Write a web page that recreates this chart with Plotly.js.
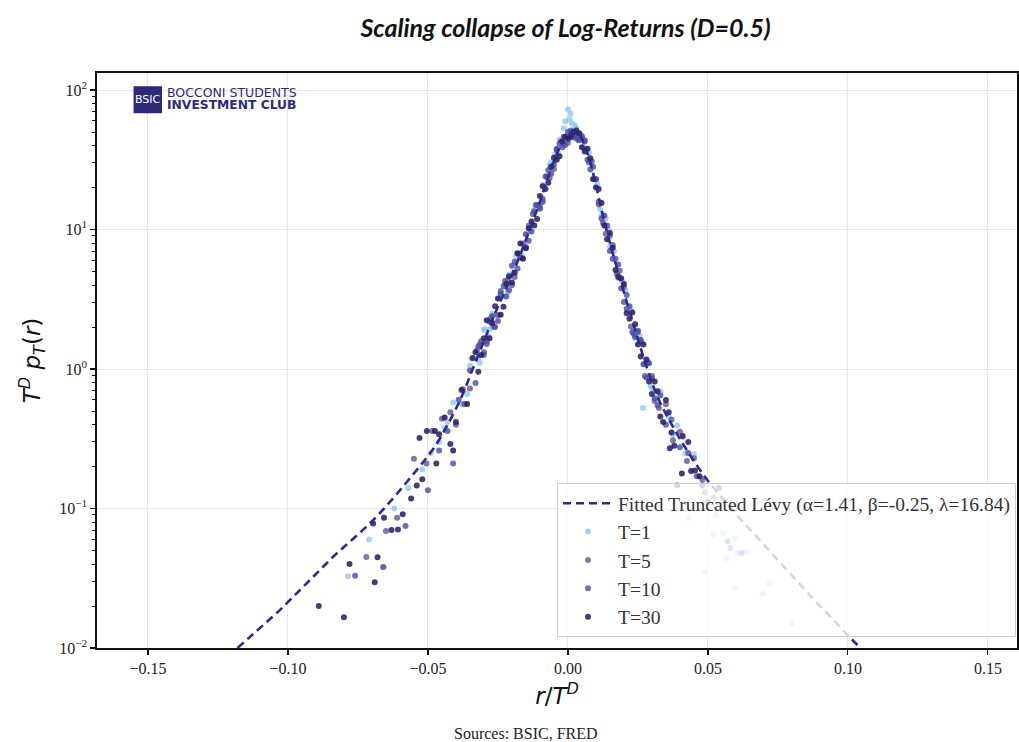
<!DOCTYPE html>
<html>
<head>
<meta charset="utf-8">
<script src="https://cdn.plot.ly/plotly-3.0.1.min.js"></script>
<style>html,body{margin:0;padding:0;background:#fff;}#chart{width:1019px;height:742px;}</style>
</head>
<body>
<div id="chart"></div>
<script>
// Fitted truncated Lévy curve
const fitX = [-0.118,-0.113,-0.108,-0.103,-0.098,-0.093,-0.088,-0.083,-0.078,-0.073,-0.068,-0.063,-0.058,-0.053,-0.048,-0.043,-0.038,-0.034,-0.030,-0.026,-0.022,-0.018,-0.014,-0.010,-0.007,-0.004,-0.002,0.000,0.002,0.004,0.006,0.008,0.010,0.012,0.014,0.017,0.020,0.024,0.028,0.032,0.036,0.040,0.045,0.050,0.055,0.060,0.065,0.070,0.075,0.080,0.085,0.090,0.095,0.100,0.105];
const fitY = [0.0100,0.0123,0.0151,0.0186,0.0234,0.0295,0.0372,0.0468,0.0575,0.0708,0.0891,0.115,0.151,0.200,0.269,0.398,0.631,1.00,1.58,2.51,3.80,5.89,9.55,15.8,24.0,34.7,42.7,47.9,50.1,47.9,39.8,30.2,20.9,13.8,9.55,5.75,3.55,1.91,1.05,0.631,0.437,0.316,0.219,0.158,0.120,0.0912,0.0708,0.0550,0.0427,0.0331,0.0257,0.0200,0.0158,0.0123,0.0098];

// T=1
const t1X = [-0.0786,-0.0657,-0.071,-0.062,-0.057,-0.052,-0.049,-0.046,-0.044,-0.041,-0.038,-0.035,-0.032,-0.030,-0.0285,-0.027,-0.0255,-0.024,-0.0225,-0.021,-0.0195,-0.018,-0.0165,-0.015,-0.0135,-0.012,-0.0105,-0.009,-0.0075,-0.006,-0.0045,-0.003,-0.0015,0.000,0.0005,0.0015,0.003,0.0045,0.006,0.0075,0.009,0.0105,0.012,0.0135,0.015,0.0165,0.018,0.0195,0.021,0.0225,0.024,0.0255,0.027,0.0285,0.030,0.033,0.036,0.039,0.042,0.045,0.043,0.0518,0.0554,0.0596,0.0568,0.0604,0.0636,0.049,0.0596,0.072,0.0696,0.080,0.048,0.053,0.0268,
  -0.0345,-0.0315,-0.0295,-0.0275,-0.0245,-0.0215,-0.0185,-0.0155,-0.0125,-0.0095,-0.0065,-0.0035,-0.001,0.001,0.0025,0.0055,0.0085,0.0115,0.0145,0.0175,0.0205,0.0235,0.0265,0.0295,0.0325,0.0375,0.041,-0.036,-0.043];
const t1Y = [0.0327,0.038,0.060,0.10,0.14,0.19,0.25,0.30,0.38,0.575,0.562,1.05,1.20,1.91,1.72,2.51,2.45,3.55,3.31,4.73,4.95,6.76,6.53,9.23,9.66,13.8,14.8,20.9,23.4,30.2,34.7,44.2,53.1,72.4,61.7,57.5,53.1,48.4,38.0,35.5,23.4,21.1,12.6,12.0,7.50,7.00,4.47,4.22,2.69,2.66,1.66,1.74,1.08,1.15,0.724,0.692,0.457,0.394,0.248,0.245,0.086,0.065,0.066,0.061,0.044,0.048,0.049,0.035,0.027,0.029,0.0245,0.015,0.11,0.09,0.526,
  1.19,1.11,1.93,1.95,3.20,3.55,6.53,7.41,12.9,15.5,28.8,35.1,59.6,67.6,55.6,38.9,30.2,14.0,10.0,4.73,3.67,1.86,1.53,0.759,0.676,0.339,0.324,0.661,0.417];

// T=5
const t5X = [-0.072,-0.065,-0.061,-0.055,-0.0505,-0.0485,-0.045,-0.042,-0.040,-0.0375,-0.035,-0.0325,-0.030,-0.0275,-0.025,-0.0225,-0.020,-0.0175,-0.015,-0.0125,-0.010,-0.0075,-0.005,-0.0025,0.000,0.0025,0.005,0.0075,0.010,0.0125,0.015,0.0175,0.020,0.0225,0.025,0.0275,0.030,0.0325,0.035,0.0375,0.040,0.0425,0.045,0.048,0.052,0.058,
  -0.0315,-0.0265,-0.0215,-0.0165,-0.0115,-0.0065,-0.0015,0.0035,0.0085,0.0135,0.0185,0.0235,0.0285,-0.029,-0.024,-0.019,-0.014,-0.009,-0.004,0.001,0.006,0.011,0.016,0.021,0.026,0.031];
const t5Y = [0.045,0.069,0.086,0.227,0.21,0.36,0.44,0.490,0.398,0.716,0.724,1.36,1.26,2.32,2.43,4.27,3.98,6.68,7.50,12.9,14.5,24.0,27.2,42.7,41.7,47.9,46.8,30.2,22.9,11.2,9.02,4.84,3.89,2.02,1.84,0.891,0.85,0.525,0.56,0.309,0.355,0.219,0.229,0.161,0.12,0.052,
  1.50,2.02,4.37,6.24,15.0,23.4,46.2,44.2,30.9,9.33,5.07,1.78,1.10,1.58,3.63,4.57,10.7,16.6,37.2,45.7,43.7,15.1,7.76,2.69,1.58,0.589];

// T=10
const t10X = [-0.076,-0.066,-0.058,-0.050,-0.046,-0.043,-0.041,-0.039,-0.037,-0.035,-0.033,-0.031,-0.029,-0.027,-0.025,-0.023,-0.021,-0.019,-0.017,-0.015,-0.013,-0.011,-0.009,-0.007,-0.005,-0.003,-0.001,0.001,0.003,0.005,0.007,0.009,0.011,0.013,0.015,0.017,0.019,0.021,0.023,0.025,0.027,0.029,0.031,0.033,0.035,0.037,0.040,0.043,0.046,0.049,0.057,0.062,
  -0.032,-0.030,-0.028,-0.026,-0.024,-0.022,-0.020,-0.018,-0.016,-0.014,-0.012,-0.010,-0.008,-0.006,-0.004,-0.002,0.000,0.002,0.004,0.006,0.008,0.010,0.012,0.014,0.016,0.018,0.020,0.022,0.024,0.026,0.028,0.030,0.032];
const t10Y = [0.033,0.038,0.075,0.135,0.26,0.36,0.21,0.603,0.562,0.977,0.794,1.58,1.51,2.40,2.21,3.94,3.67,5.89,6.31,9.23,9.66,15.0,15.8,26.6,29.2,41.2,40.3,51.3,45.7,45.7,31.6,28.2,15.8,12.6,7.00,6.17,3.80,3.39,1.84,1.88,1.08,1.10,0.617,0.646,0.398,0.432,0.275,0.25,0.170,0.13,0.058,0.048,
  1.45,1.32,2.19,2.00,3.47,3.31,5.50,5.25,7.94,8.32,13.5,14.1,24.0,25.1,38.0,38.9,50.1,45.7,43.7,42.7,26.9,22.9,12.0,10.7,6.17,5.62,3.02,2.82,1.70,1.62,0.871,0.891,0.550];

// T=30
const t30X = [-0.089,-0.080,-0.078,-0.069,-0.068,-0.063,-0.059,-0.056,-0.052,-0.047,-0.053,-0.046,-0.042,-0.044,-0.040,-0.038,-0.036,-0.034,-0.032,-0.030,-0.028,-0.026,-0.024,-0.022,-0.020,-0.018,-0.016,-0.014,-0.012,-0.010,-0.008,-0.006,-0.004,-0.002,0.000,0.002,0.004,0.006,0.008,0.010,0.012,0.014,0.016,0.018,0.020,0.022,0.024,0.026,0.028,0.030,0.032,0.034,0.036,0.038,0.041,0.044,0.047,0.050,0.054,0.039,0.0364,0.0407,0.048,0.0454,
  -0.033,-0.031,-0.029,-0.027,-0.025,-0.023,-0.021,-0.019,-0.017,-0.015,-0.013,-0.011,-0.009,-0.007,-0.005,-0.003,-0.001,0.001,0.003,0.005,0.007,0.009,0.011,0.013,0.015,0.017,0.019,0.021,0.023,0.025,0.027,0.029,0.031,0.033,
  -0.0607,-0.0657,-0.0696,-0.054,-0.0504,-0.0475,-0.041,0.043,0.037,0.035];
const t30Y = [0.020,0.0166,0.040,0.0296,0.0447,0.070,0.091,0.118,0.162,0.21,0.32,0.34,0.29,0.45,0.417,0.708,0.562,1.20,0.955,1.66,1.66,2.82,2.45,4.07,4.17,6.76,6.17,10.2,10.7,17.4,19.5,28.2,31.6,42.7,44.7,50.1,49.0,36.3,32.4,20.0,15.5,8.51,7.41,4.57,4.07,2.29,2.09,1.23,1.17,0.661,0.692,0.417,0.490,0.282,0.331,0.186,0.170,0.112,0.141,0.146,0.27,0.178,0.146,0.187,
  1.32,1.26,2.24,2.14,3.20,2.79,4.62,4.90,7.94,7.33,11.4,11.9,20.4,21.6,32.7,33.5,46.2,46.8,51.3,38.9,38.0,22.9,19.5,10.7,9.44,5.13,4.47,2.51,2.54,1.50,1.50,0.813,0.813,0.457,
  0.0708,0.086,0.078,0.146,0.36,0.36,0.26,0.30,0.35,0.60];

const xTickVals = [-0.15,-0.10,-0.05,0.00,0.05,0.10,0.15];
const xTickText = ["\u22120.15","\u22120.10","\u22120.05","0.00","0.05","0.10","0.15"];
const yTickVals = [0.01,0.1,1,10,100];
const yTickText = ["10<sup>\u22122</sup>","10<sup>\u22121</sup>","10<sup>0</sup>","10<sup>1</sup>","10<sup>2</sup>"];
const yMinorVals = [0.02,0.03,0.04,0.05,0.06,0.07,0.08,0.09,0.2,0.3,0.4,0.5,0.6,0.7,0.8,0.9,2,3,4,5,6,7,8,9,20,30,40,50,60,70,80,90];

const serif = "Liberation Serif, DejaVu Serif, serif";

function pts(x, y, name, color, rank) {
  return {x: x, y: y, type: 'scatter', mode: 'markers', name: name, legendrank: rank,
    marker: {size: 6, color: color, line: {width: 0}}, hoverinfo: 'skip'};
}

const data = [
  pts(t1X, t1Y, 'T=1', 'rgba(140,195,238,0.75)', 2),
  pts(t5X, t5Y, 'T=5', 'rgba(100,85,140,0.8)', 3),
  pts(t10X, t10Y, 'T=10', 'rgba(70,75,165,0.8)', 4),
  pts(t30X, t30Y, 'T=30', 'rgba(38,26,96,0.85)', 5),
  {x: fitX, y: fitY, type: 'scatter', mode: 'lines', name: 'Fitted Truncated Lévy (α=1.41, β=-0.25, λ=16.84)',
   legendrank: 1, line: {color: '#2c2a8c', width: 2.6, dash: '8px,5px', shape: 'spline'}, hoverinfo: 'skip'}
];

const layout = {
  width: 1019, height: 742,
  margin: {l: 97, r: 2, t: 73, b: 94},
  paper_bgcolor: '#ffffff', plot_bgcolor: '#ffffff',
  showlegend: true,
  title: {text: '<b><i>Scaling collapse of Log-Returns (D=0.5)</i></b>', x: 0.555, xanchor: 'center', y: 0.962, yanchor: 'middle',
    font: {family: 'Lato, Open Sans, sans-serif', size: 25, color: '#111'}},
  xaxis: {
    type: 'linear', range: [-0.1682, 0.1604],
    tickvals: xTickVals, ticktext: xTickText,
    showgrid: true, gridcolor: '#e6e6e6', gridwidth: 1, zeroline: false,
    showline: true, mirror: true, linecolor: '#111', linewidth: 1.6,
    ticks: 'outside', ticklen: 5, tickwidth: 1.2, tickcolor: '#111',
    tickfont: {family: serif, size: 16, color: '#222'},
    title: {text: '<i>r</i>/<i>T</i><sup><i>D</i></sup>', standoff: 12, font: {family: 'DejaVu Sans, sans-serif', size: 23, color: '#111'}}
  },
  yaxis: {
    type: 'log', range: [-2, 2.122],
    tickvals: yTickVals, ticktext: yTickText,
    showgrid: true, gridcolor: '#e6e6e6', gridwidth: 1, zeroline: false,
    showline: true, mirror: true, linecolor: '#111', linewidth: 1.6,
    ticks: 'outside', ticklen: 5, tickwidth: 1.2, tickcolor: '#111',
    minor: {tickmode: 'array', tickvals: yMinorVals, ticks: 'outside', ticklen: 3, tickwidth: 1, tickcolor: '#111', showgrid: false},
    tickfont: {family: serif, size: 16, color: '#222'},
    title: {text: '<i>T</i><sup><i>D</i></sup> <i>p</i><sub><i>T</i></sub>(<i>r</i>)', standoff: 12, font: {family: 'DejaVu Sans, sans-serif', size: 23, color: '#111'}}
  },
  legend: {
    x: 0.5, xanchor: 'left', y: 0.019, yanchor: 'bottom',
    bgcolor: 'rgba(255,255,255,0.8)', bordercolor: '#cccccc', borderwidth: 1,
    font: {family: serif, size: 19.5, color: '#333'},
    itemsizing: 'trace', itemwidth: 50, tracegroupgap: 0
  },
  shapes: [
    {type: 'rect', xref: 'paper', yref: 'paper', x0: 0.0397, x1: 0.0707, y0: 0.930, y1: 0.977,
     fillcolor: '#2e2a78', line: {width: 0}}
  ],
  annotations: [
    {text: 'BSIC', xref: 'paper', yref: 'paper', x: 0.0552, y: 0.9535, xanchor: 'center', yanchor: 'middle', showarrow: false,
     font: {family: 'DejaVu Sans, sans-serif', size: 11, color: '#ffffff'}},
    {text: 'BOCCONI STUDENTS', xref: 'paper', yref: 'paper', x: 0.0735, y: 0.9655, xanchor: 'left', yanchor: 'middle', showarrow: false,
     font: {family: 'DejaVu Sans, sans-serif', size: 12.5, color: '#2e2a78'}},
    {text: '<b>INVESTMENT CLUB</b>', xref: 'paper', yref: 'paper', x: 0.0735, y: 0.944, xanchor: 'left', yanchor: 'middle', showarrow: false,
     font: {family: 'DejaVu Sans, sans-serif', size: 12.3, color: '#2e2a78'}},
    {text: 'Sources: BSIC, FRED', xref: 'paper', yref: 'paper', x: 0.4665, y: -0.148, xanchor: 'center', yanchor: 'middle', showarrow: false,
     font: {family: serif, size: 16, color: '#222'}}
  ]
};

Plotly.newPlot('chart', data, layout, {displayModeBar: false, staticPlot: true});
</script>
</body>
</html>
